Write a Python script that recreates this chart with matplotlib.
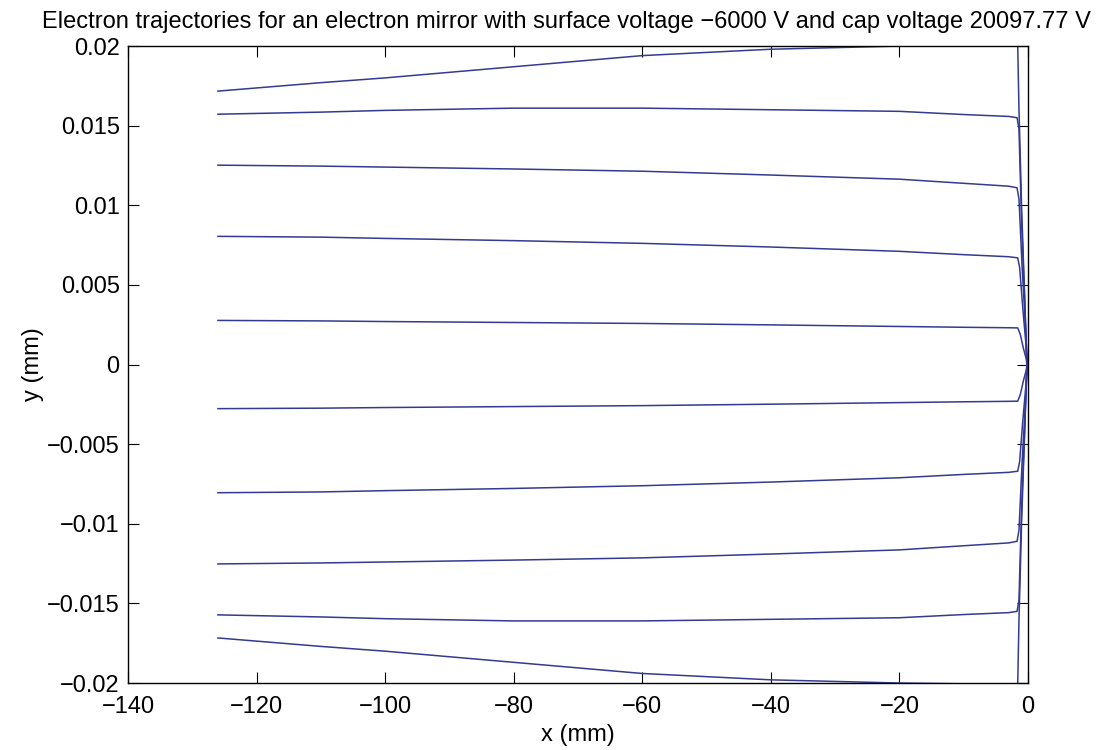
import matplotlib

matplotlib.use("Agg")
import matplotlib.pyplot as plt

# Incoming branch: y (mm) at these x stations (mm), one row per electron, top to bottom.
X_IN = [-126, -110, -100, -80, -60, -40, -20, -10, -3]
Y_IN_UPPER = [
    [0.01717, 0.01770, 0.01800, 0.01870, 0.01940, 0.01980, 0.02000, 0.02005, 0.02008],
    [0.01572, 0.01585, 0.01596, 0.01610, 0.01610, 0.01600, 0.01590, 0.01570, 0.01558],
    [0.01252, 0.01246, 0.01240, 0.01228, 0.01214, 0.01190, 0.01164, 0.01138, 0.01120],
    [0.00805, 0.00800, 0.00792, 0.00778, 0.00761, 0.00738, 0.00711, 0.00690, 0.00677],
    [0.00277, 0.00274, 0.00270, 0.00264, 0.00258, 0.00249, 0.00239, 0.00234, 0.00231],
]
# Outgoing branch (mirror side below the axis).
Y_IN_LOWER = [
    [-0.01717, -0.01770, -0.01800, -0.01870, -0.01940, -0.01980, -0.02000, -0.02005, -0.02008],
    [-0.01572, -0.01585, -0.01596, -0.01610, -0.01610, -0.01600, -0.01590, -0.01570, -0.01558],
    [-0.01252, -0.01246, -0.01240, -0.01228, -0.01214, -0.01190, -0.01164, -0.01138, -0.01120],
    [-0.00805, -0.00800, -0.00792, -0.00778, -0.00761, -0.00738, -0.00711, -0.00690, -0.00677],
    [-0.00277, -0.00274, -0.00270, -0.00264, -0.00258, -0.00249, -0.00239, -0.00234, -0.00231],
]

# Turning region close to the mirror surface: (x, y) from the corner to the axis.
TURN_X = [
    [-1.6, -1.4, -1.0, -0.5, -0.2],
    [-1.7, -1.4, -1.0, -0.5, -0.15],
    [-1.7, -1.4, -0.9, -0.4, -0.1],
    [-1.6, -1.3, -0.8, -0.3, -0.1],
    [-1.6, -1.2, -0.7, -0.3, -0.05],
]
TURN_Y = [
    [0.0201, 0.0160, 0.0100, 0.0040, 0.0],
    [0.0155, 0.0148, 0.0090, 0.0040, 0.0],
    [0.0111, 0.0104, 0.0060, 0.0025, 0.0],
    [0.0067, 0.0061, 0.0035, 0.0012, 0.0],
    [0.0023, 0.0019, 0.0010, 0.0004, 0.0],
]

X_TICKS = [-140, -120, -100, -80, -60, -40, -20, 0]
Y_TICKS = [-0.02, -0.015, -0.01, -0.005, 0, 0.005, 0.01, 0.015, 0.02]
Y_TICKLABELS = ["\u22120.02", "\u22120.015", "\u22120.01", "\u22120.005", "0",
                "0.005", "0.01", "0.015", "0.02"]

TITLE = "Electron trajectories for an electron mirror with surface voltage \u22126000 V and cap voltage 20097.77 V"
LINE_COLOR = "#343a92"


def main() -> None:
    plt.rcParams["font.family"] = ["Liberation Sans", "DejaVu Sans"]
    fig = plt.figure(figsize=(11.05, 7.5), dpi=100)
    ax = fig.add_axes([0.1158, 0.0893, 0.8145, 0.8493])

    for up, low, tx, ty in zip(Y_IN_UPPER, Y_IN_LOWER, TURN_X, TURN_Y):
        # incoming above the axis, turn at the mirror, leave below the axis
        xs = X_IN + tx + tx[::-1][1:] + X_IN[::-1]
        ys = up + ty + [-v for v in ty[::-1][1:]] + low[::-1]
        ax.plot(xs, ys, color=LINE_COLOR, linewidth=1.1)

    ax.set_xlim(-140, 0)
    ax.set_ylim(-0.02, 0.02)
    ax.set_xticks(X_TICKS)
    ax.set_xticklabels([str(t).replace("-", "\u2212") for t in X_TICKS])
    ax.set_yticks(Y_TICKS)
    ax.set_yticklabels(Y_TICKLABELS)
    ax.tick_params(direction="in", top=True, right=True, length=8, labelsize=17)
    ax.tick_params(axis="x", pad=9)
    ax.tick_params(axis="y", pad=6)
    for s in ax.spines.values():
        s.set_linewidth(1.0)
    ax.set_xlabel("x (mm)", fontsize=17, labelpad=5)
    ax.set_ylabel("y (mm)", fontsize=17, labelpad=2)
    ax.set_title(TITLE, fontsize=17, pad=13, x=0.487)

    fig.savefig("out.png", dpi=100)
    plt.close(fig)


if __name__ == "__main__":
    main()
